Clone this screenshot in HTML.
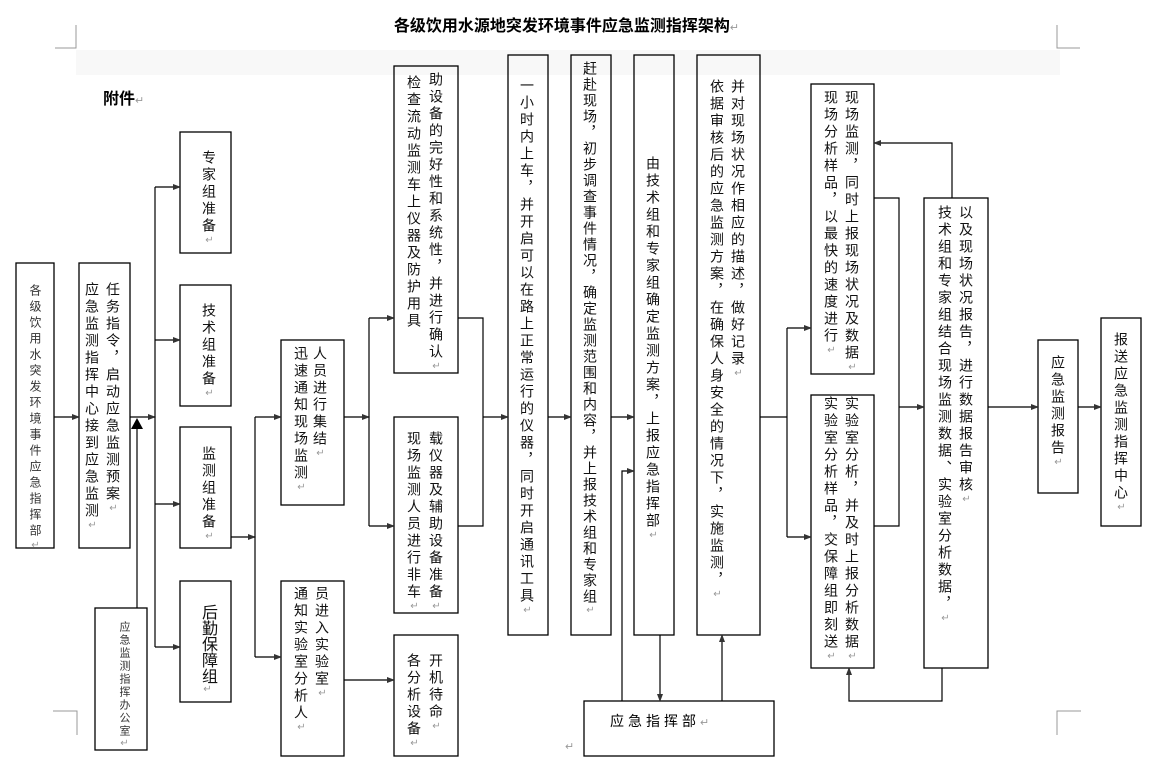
<!DOCTYPE html>
<html><head><meta charset="utf-8"><style>
body{margin:0;background:#fff;}
#c{position:relative;width:1153px;height:766px;overflow:hidden;background:#fff;font-family:"Liberation Sans","Noto Sans CJK SC",sans-serif;}
.v{position:absolute;writing-mode:vertical-rl;text-orientation:upright;font-size:14px;letter-spacing:3px;line-height:14px;width:14px;white-space:nowrap;color:#111;font-family:"Liberation Sans","Noto Sans CJK SC",sans-serif;}
.v i{font-style:normal;color:#999;font-size:10px;}
.s{font-size:12px;letter-spacing:4px;line-height:12px;width:12px;color:#333;}
.xs{font-size:11px;letter-spacing:2px;line-height:11px;width:11px;color:#333;}
.b{font-size:16px;letter-spacing:0;line-height:16px;width:16px;}
</style></head><body><div id="c">
<svg width="1153" height="766" style="position:absolute;left:0;top:0">
<defs><marker id="a" markerWidth="8" markerHeight="6" refX="7" refY="3" orient="auto" markerUnits="userSpaceOnUse"><path d="M0,0 L8,3 L0,6 z" fill="#333"/></marker></defs>
<rect x="76" y="50" width="984" height="25" fill="#f8f8f8"/>
<g stroke="#999" stroke-width="1" fill="none">
<path d="M55,48 H76 V25"/><path d="M1080,48 H1057 V25"/><path d="M53,711 H77 V735"/><path d="M1081,711 H1057 V735"/>
</g>
<g stroke="#000" stroke-width="1.3" fill="none">
<rect x="16" y="263" width="38" height="285"/>
<rect x="79" y="263" width="51" height="285"/>
<rect x="95" y="608" width="52" height="142"/>
<rect x="180" y="132" width="51" height="121"/>
<rect x="180" y="285" width="51" height="121"/>
<rect x="180" y="427" width="51" height="121"/>
<rect x="180" y="581" width="51" height="121"/>
<rect x="281" y="340" width="63" height="165"/>
<rect x="281" y="581" width="63" height="175"/>
<rect x="394" y="66" width="64" height="307"/>
<rect x="394" y="417" width="64" height="196"/>
<rect x="394" y="635" width="64" height="121"/>
<rect x="508" y="55" width="40" height="580"/>
<rect x="571" y="55" width="40" height="580"/>
<rect x="634" y="55" width="40" height="580"/>
<rect x="697" y="55" width="63" height="580"/>
<rect x="811" y="84" width="63" height="290"/>
<rect x="811" y="395" width="63" height="273"/>
<rect x="924" y="198" width="64" height="470"/>
<rect x="1038" y="340" width="40" height="153"/>
<rect x="1101" y="318" width="40" height="208"/>
<rect x="584" y="701" width="190" height="55"/>
</g>
<g stroke="#000" stroke-width="1.2" fill="none">
<line x1="54" y1="417" x2="79" y2="417" marker-end="url(#a)"/>
<line x1="130" y1="417" x2="155" y2="417" marker-end="url(#a)"/>
<line x1="155" y1="187" x2="155" y2="647"/>
<line x1="155" y1="187" x2="180" y2="187" marker-end="url(#a)"/>
<line x1="155" y1="340" x2="180" y2="340" marker-end="url(#a)"/>
<line x1="155" y1="504" x2="180" y2="504" marker-end="url(#a)"/>
<line x1="155" y1="647" x2="180" y2="647" marker-end="url(#a)"/>
<line x1="137" y1="608" x2="137" y2="428"/>
<line x1="231" y1="537" x2="255" y2="537" marker-end="url(#a)"/>
<line x1="255" y1="417" x2="255" y2="657"/>
<line x1="255" y1="417" x2="281" y2="417" marker-end="url(#a)"/>
<line x1="255" y1="657" x2="281" y2="657" marker-end="url(#a)"/>
<line x1="344" y1="417" x2="369" y2="417" marker-end="url(#a)"/>
<line x1="369" y1="318" x2="369" y2="526"/>
<line x1="369" y1="318" x2="394" y2="318" marker-end="url(#a)"/>
<line x1="369" y1="526" x2="394" y2="526" marker-end="url(#a)"/>
<line x1="344" y1="680" x2="394" y2="680" marker-end="url(#a)"/>
<path d="M458,318 H483 V526 H458"/>
<line x1="483" y1="417" x2="508" y2="417" marker-end="url(#a)"/>
<line x1="548" y1="417" x2="571" y2="417" marker-end="url(#a)"/>
<line x1="611" y1="417" x2="634" y2="417" marker-end="url(#a)"/>
<line x1="660" y1="635" x2="660" y2="701" marker-end="url(#a)"/>
<path d="M622,701 V471 H634" marker-end="url(#a)"/>
<line x1="722" y1="701" x2="722" y2="635" marker-end="url(#a)"/>
<line x1="760" y1="417" x2="787" y2="417"/>
<line x1="787" y1="328" x2="787" y2="537"/>
<line x1="787" y1="328" x2="811" y2="328" marker-end="url(#a)"/>
<line x1="787" y1="537" x2="811" y2="537" marker-end="url(#a)"/>
<path d="M874,198 H899 V526 H874"/>
<line x1="899" y1="407" x2="924" y2="407" marker-end="url(#a)"/>
<path d="M952,198 V143 H874" marker-end="url(#a)"/>
<path d="M942,668 V701 H849 V668" marker-end="url(#a)"/>
<line x1="988" y1="407" x2="1038" y2="407" marker-end="url(#a)"/>
<line x1="1078" y1="407" x2="1101" y2="407" marker-end="url(#a)"/>
</g>
<path d="M131,429 L137,418 L143,429 z" fill="#000"/>
</svg>
<div style="position:absolute;left:-10px;width:1153px;top:12px;text-align:center;font-weight:bold;font-size:16px;">各级饮用水源地突发环境事件应急监测指挥架构<span style="color:#999;font-weight:normal;font-size:11px">↵</span></div>
<div style="position:absolute;left:103px;top:85px;font-weight:bold;font-size:16px;">附件<span style="color:#999;font-weight:normal;font-size:11px">↵</span></div>
<div style="position:absolute;left:610px;top:711px;font-size:14px;letter-spacing:4px;">应急指挥部<span style="color:#999;font-size:11px">↵</span></div>
<div style="position:absolute;left:565px;top:740px;color:#999;font-size:11px;">↵</div>

<div class="v s" style="left:29px;top:284px">各级饮用水突发环境事件应急指挥部<i>↵</i></div>
<div class="v" style="left:106px;top:282px">任务指令，启动应急监测预案<i>↵</i></div>
<div class="v" style="left:85px;top:282px">应急监测指挥中心接到应急监测<i>↵</i></div>
<div class="v xs" style="left:119px;top:621px">应急监测指挥办公室<i>↵</i></div>
<div class="v" style="left:202px;top:150px">专家组准备<i>↵</i></div>
<div class="v" style="left:202px;top:303px">技术组准备<i>↵</i></div>
<div class="v" style="left:202px;top:446px">监测组准备<i>↵</i></div>
<div class="v b" style="left:199px;top:604px">后勤保障组<i>↵</i></div>
<div class="v" style="left:313px;top:346px">人员进行集结<i>↵</i></div>
<div class="v" style="left:294px;top:346px">迅速通知现场监测<i>↵</i></div>
<div class="v" style="left:315px;top:586px">员进入实验室<i>↵</i></div>
<div class="v" style="left:294px;top:586px">通知实验室分析人<i>↵</i></div>
<div class="v" style="left:429px;top:72px">助设备的完好性和系统性，并进行确认<i>↵</i></div>
<div class="v" style="left:407px;top:75px">检查流动监测车上仪器及防护用具</div>
<div class="v" style="left:429px;top:431px">载仪器及辅助设备准备<i>↵</i></div>
<div class="v" style="left:407px;top:431px">现场监测人员进行非车<i>↵</i></div>
<div class="v" style="left:429px;top:653px">开机待命<i>↵</i></div>
<div class="v" style="left:407px;top:653px">各分析设备<i>↵</i></div>
<div class="v" style="left:520px;top:78px">一小时内上车，并开启可以在路上正常运行的仪器，同时开启通讯工具<i>↵</i></div>
<div class="v" style="left:583px;top:61px;letter-spacing:2px">赶赴现场，初步调查事件情况，确定监测范围和内容，并上报技术组和专家组<i>↵</i></div>
<div class="v" style="left:646px;top:156px">由技术组和专家组确定监测方案，上报应急指挥部<i>↵</i></div>
<div class="v" style="left:731px;top:79px">并对现场状况作相应的描述，做好记录<i>↵</i></div>
<div class="v" style="left:710px;top:79px">依据审核后的应急监测方案，在确保人身安全的情况下，实施监测，<i>↵</i></div>
<div class="v" style="left:845px;top:90px">现场监测，同时上报现场状况及数据<i>↵</i></div>
<div class="v" style="left:824px;top:90px">现场分析样品，以最快的速度进行<i>↵</i></div>
<div class="v" style="left:845px;top:396px">实验室分析，并及时上报分析数据<i>↵</i></div>
<div class="v" style="left:824px;top:396px">实验室分析样品，交保障组即刻送<i>↵</i></div>
<div class="v" style="left:959px;top:205px">以及现场状况报告，进行数据报告审核<i>↵</i></div>
<div class="v" style="left:938px;top:205px">技术组和专家组结合现场监测数据、实验室分析数据，<i>↵</i></div>
<div class="v" style="left:1051px;top:355px">应急监测报告<i>↵</i></div>
<div class="v" style="left:1114px;top:332px">报送应急监测指挥中心<i>↵</i></div>
</div></body></html>
